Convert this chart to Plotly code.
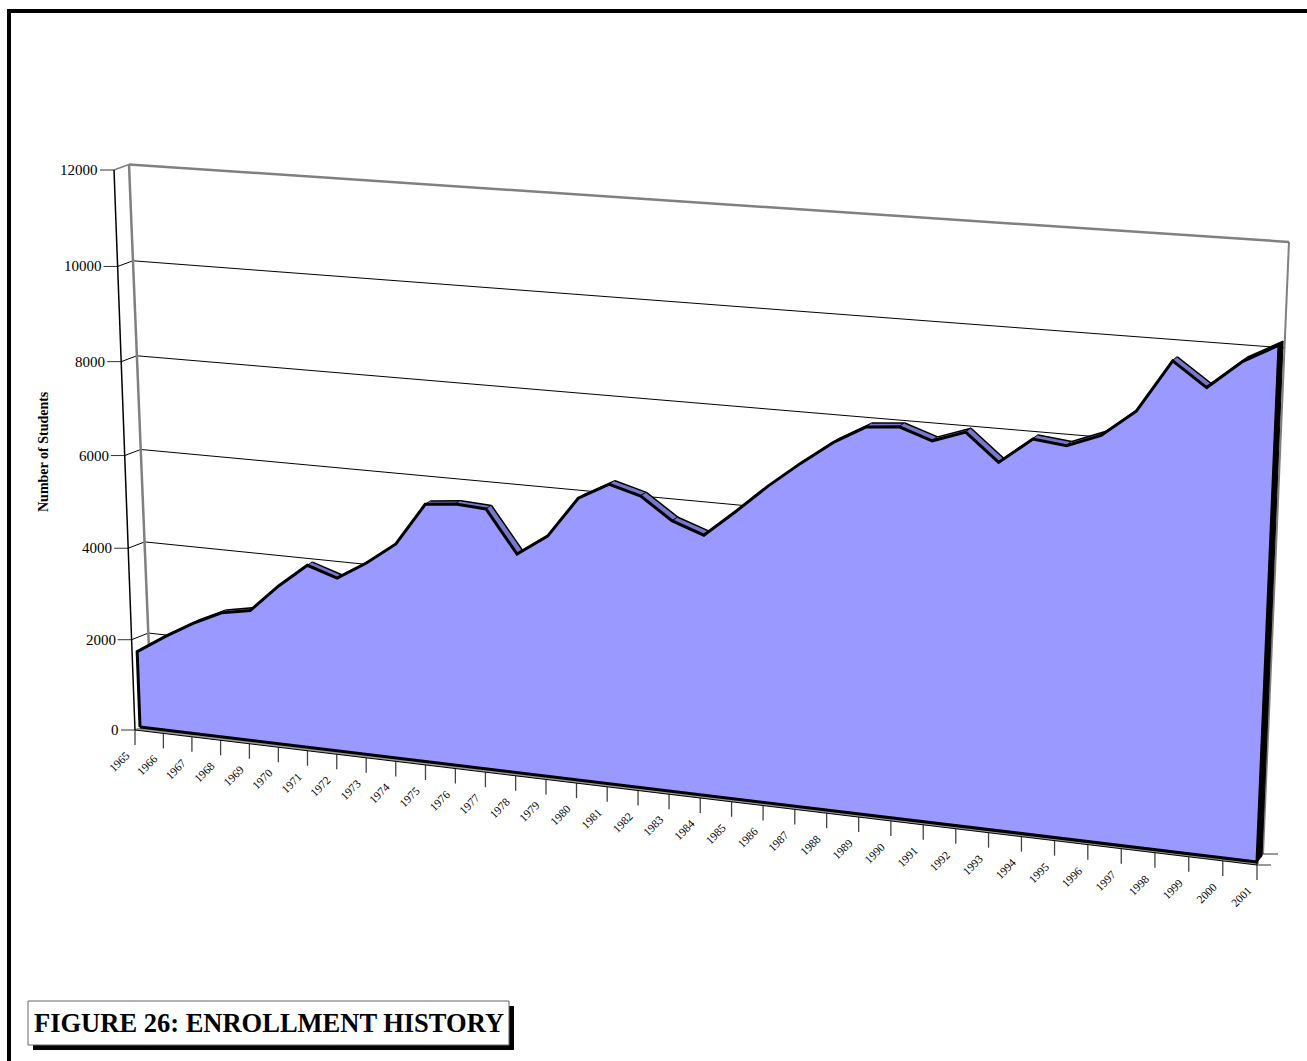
import numpy as np
import plotly.graph_objects as go

years = list(range(1965, 2002))
students = [1670, 2070, 2430, 2730, 2850, 3450, 3960, 3750, 4140, 4610, 5510, 5580, 5540,
            4660, 5100, 5950, 6300, 6120, 5670, 5440, 5990, 6570, 7090, 7570, 7940, 8000,
            7780, 8010, 7470, 7990, 7920, 8180, 8710, 9740, 9280, 9840, 10200]
y_ticks = [0, 2000, 4000, 6000, 8000, 10000, 12000]
VMAX = 12000
LAST = len(years) - 1

def homography(c):
    src = [(0, 0), (1, 0), (1, 1), (0, 1)]
    A = []; b = []
    for (u, w), (x, y) in zip(src, c):
        A.append([u, w, 1, 0, 0, 0, -u*x, -w*x]); b.append(x)
        A.append([0, 0, 0, u, w, 1, -u*y, -w*y]); b.append(y)
    h = np.linalg.solve(np.array(A, float), np.array(b, float))
    return np.append(h, 1).reshape(3, 3)

def proj(H, t, v):
    p = H @ np.array([t/LAST, v/VMAX, 1.0])
    return float(p[0]/p[2]), float(p[1]/p[2])

FRONT = homography([(135, 730), (1257, 865), (1284, 252), (114, 170)])
BACK = homography([(152, 723), (1263, 854), (1289, 242), (129, 164.5)])
SF = homography([(140, 727), (1257, 862), (1283, 250), (119, 167)])
SB = homography([(144.5, 724.3), (1262, 856), (1287, 246.5), (123.5, 164.3)])

fig = go.Figure()

def line(pts, color, w):
    fig.add_trace(go.Scatter(x=[p[0] for p in pts], y=[p[1] for p in pts], mode='lines',
                             line=dict(color=color, width=w), hoverinfo='skip', showlegend=False))

def poly(pts, fill, lc='black', w=2):
    fig.add_trace(go.Scatter(x=[p[0] for p in pts], y=[p[1] for p in pts], mode='lines', fill='toself',
                             fillcolor=fill, line=dict(color=lc, width=w), hoverinfo='skip', showlegend=False))

for v in y_ticks:
    grey = v == VMAX
    line([proj(BACK, 0, v), proj(BACK, LAST, v)], '#808080' if grey else 'black', 2.5 if grey else 1)
    line([proj(FRONT, 0, v), proj(BACK, 0, v)], '#808080' if grey else 'black', 1.5 if grey else 1)
    a = proj(FRONT, 0, v)
    line([(a[0]-14, a[1]), a], '#333333', 1)
    fig.add_annotation(x=a[0]-14, y=a[1], text=str(v), xanchor='right', yanchor='middle', showarrow=False,
                       font=dict(family='Liberation Serif', size=15, color='black'))
line([proj(BACK, 0, 0), proj(BACK, 0, VMAX)], '#808080', 2.5)
line([proj(BACK, LAST, 0), proj(BACK, LAST, VMAX)], '#808080', 2)
line([proj(FRONT, 0, 0), proj(FRONT, 0, VMAX)], 'black', 1.5)
for t, yr in enumerate(years):
    a = proj(FRONT, t, 0)
    line([a, (a[0], a[1]+15)], '#444444', 1.3)
    fig.add_annotation(x=a[0]-16, y=a[1]+32, text=str(yr), textangle=-45, xanchor='center', yanchor='middle',
                       showarrow=False, font=dict(family='Liberation Serif', size=11.5, color='black'))
a = proj(FRONT, LAST, 0); line([a, (a[0]+14, a[1])], '#333333', 1)
a = proj(BACK, LAST, 0); line([a, (a[0]+15, a[1])], '#333333', 1)

# floor sliver under the area
poly([proj(FRONT, 0, 0), proj(FRONT, LAST, 0), proj(SF, LAST, 0), proj(SF, 0, 0)], '#9a9a9a', 'black', 1)
# top surface bands of the extruded area
n = len(years)
for i in range(n-1):
    poly([proj(SF, i, students[i]), proj(SF, i+1, students[i+1]), proj(SB, i+1, students[i+1]), proj(SB, i, students[i])],
         '#7777cc', 'black', 1.5)
poly([proj(SF, LAST, students[-1]), proj(SF, LAST, 0), proj(SB, LAST, 0), proj(SB, LAST, students[-1])], 'black', 'black', 1)
face = [proj(SF, 0, 0)] + [proj(SF, i, students[i]) for i in range(n)] + [proj(SF, LAST, 0), proj(SF, 0, 0)]
poly(face, '#9999ff', 'black', 3)

fig.add_annotation(x=43, y=452, text='<b>Number of Students</b>', textangle=-90, showarrow=False,
                   font=dict(family='Liberation Serif', size=14, color='black'))
shapes = [
    dict(type='rect', x0=9, x1=1340, y0=11, y1=1100, line=dict(color='black', width=4), fillcolor='rgba(0,0,0,0)'),
    dict(type='rect', x0=33, x1=514, y0=1006, y1=1050, fillcolor='black', line=dict(width=0)),
    dict(type='rect', x0=28, x1=509, y0=1001, y1=1045, fillcolor='white', line=dict(color='#666666', width=1)),
]
fig.add_annotation(x=269, y=1023, text='<b>FIGURE 26: ENROLLMENT HISTORY</b>', showarrow=False,
                   font=dict(family='Liberation Serif', size=26.5, color='black'))
fig.update_layout(shapes=shapes, width=1307, height=1061, margin=dict(l=0, r=0, t=0, b=0), paper_bgcolor='white',
                  plot_bgcolor='white', showlegend=False,
                  xaxis=dict(range=[0, 1307], visible=False), yaxis=dict(range=[1061, 0], visible=False))
fig.write_html("out.html", config=dict(displayModeBar=False),
               post_script="document.body.style.margin='0';document.documentElement.style.overflow='hidden';")
